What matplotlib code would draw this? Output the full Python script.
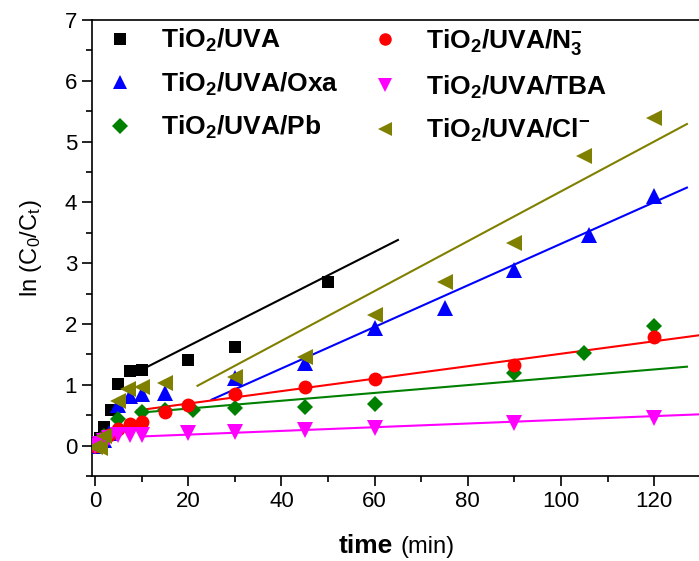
import numpy as np
import matplotlib
matplotlib.use('Agg')
import matplotlib.pyplot as plt
from matplotlib.ticker import MultipleLocator

plt.rcParams['font.family'] = ['Liberation Sans', 'DejaVu Sans']
plt.rcParams['mathtext.fontset'] = 'custom'
plt.rcParams['mathtext.rm'] = 'Liberation Sans'
plt.rcParams['mathtext.bf'] = 'Liberation Sans:bold'
plt.rcParams['mathtext.it'] = 'Liberation Sans:italic'

# measured points, ln(C0/Ct) vs time (min)
t_uva = [0, 1, 2, 3.5, 5, 7.5, 10, 20, 30, 50]
y_uva = [0, 0.13, 0.30, 0.58, 1.02, 1.23, 1.25, 1.40, 1.62, 2.69]

t_n3 = [0, 1, 2, 3, 5, 7.5, 10, 15, 20, 30, 45, 60, 90, 120]
y_n3 = [0, 0.06, 0.12, 0.18, 0.28, 0.36, 0.39, 0.56, 0.67, 0.85, 0.96, 1.10, 1.33, 1.78]

t_oxa = [0, 1, 2, 3, 5, 7.5, 10, 15, 30, 45, 60, 75, 90, 106, 120]
y_oxa = [0, 0.05, 0.10, 0.20, 0.67, 0.81, 0.85, 0.86, 1.12, 1.36, 1.94, 2.27, 2.88, 3.47, 4.11]

t_tba = [0, 1, 2, 3, 5, 7.5, 10, 20, 30, 45, 60, 90, 120]
y_tba = [0, 0.03, 0.07, 0.12, 0.18, 0.17, 0.18, 0.20, 0.23, 0.26, 0.29, 0.37, 0.45]

t_pb = [0, 1, 2, 5, 10, 15, 21, 30, 45, 60, 90, 105, 120]
y_pb = [0, 0.08, 0.15, 0.44, 0.56, 0.58, 0.58, 0.62, 0.64, 0.69, 1.20, 1.52, 1.97]

t_cl = [0, 1, 2, 5, 7, 10, 15, 30, 45, 60, 75, 90, 105, 120]
y_cl = [-0.03, -0.04, 0.15, 0.73, 0.93, 0.96, 1.03, 1.13, 1.46, 2.15, 2.69, 3.33, 4.77, 5.39]

# linear fits: (intercept, slope, t_start, t_end)
fit_uva = (0.86, 0.0388, 10, 65)
fit_n3 = (0.486, 0.01025, 9, 132)
fit_oxa = (-0.10, 0.0342, 25, 127)
fit_tba = (0.12, 0.00304, 10, 132)
fit_pb = (0.48, 0.00644, 9, 127)
fit_cl = (0.082, 0.041, 22, 127)

fig = plt.figure(figsize=(6.99, 5.61), dpi=100)
ax = fig.add_axes([91.7 / 699, 1 - 476 / 561, 612 / 699, 456 / 561])

series = [
    (t_uva, y_uva, fit_uva, 'black', 's', 9, r'TiO$_\mathbf{2}$/UVA'),
    (t_oxa, y_oxa, fit_oxa, 'blue', '^', 11, r'TiO$_\mathbf{2}$/UVA/Oxa'),
    (t_pb, y_pb, fit_pb, 'green', 'D', 8.5, r'TiO$_\mathbf{2}$/UVA/Pb'),
    (t_n3, y_n3, fit_n3, 'red', 'o', 10, r'TiO$_\mathbf{2}$/UVA/N$_\mathbf{3}^\mathbf{-}$'),
    (t_tba, y_tba, fit_tba, 'magenta', 'v', 11, r'TiO$_\mathbf{2}$/UVA/TBA'),
    (t_cl, y_cl, fit_cl, 'olive', '<', 11, r'TiO$_\mathbf{2}$/UVA/Cl$^\mathbf{-}$'),
]

handles = []
for t, y, fit, col, mk, ms, lab in series:
    b, m, t0, t1 = fit
    tt = np.array([t0, t1])
    ax.plot(tt, b + m * tt, color=col, lw=1.5, zorder=2)
for t, y, fit, col, mk, ms, lab in series:
    h, = ax.plot(t, y, linestyle='none', marker=mk, color=col, ms=ms,
                 markeredgewidth=0, label=lab, zorder=3)
    handles.append(h)

ax.set_xlim(-0.7, 130.6)
ax.set_ylim(-0.5, 7)
ax.xaxis.set_major_locator(MultipleLocator(20))
ax.xaxis.set_minor_locator(MultipleLocator(10))
ax.yaxis.set_major_locator(MultipleLocator(1))
ax.yaxis.set_minor_locator(MultipleLocator(0.5))
ax.tick_params(which='both', direction='out', width=1.2, labelsize=16,
               top=False, right=False)
ax.tick_params(which='major', length=7)
ax.tick_params(which='minor', length=4)
for s in ax.spines.values():
    s.set_linewidth(1.2)

ax.set_ylabel(r'ln (C$_0$/C$_\mathrm{t}$)', fontsize=17, labelpad=15)
fig.text(393 / 699, 1 - 553 / 561, 'time', fontsize=19, fontweight='bold',
         ha='right', va='baseline')
fig.text(401 / 699, 1 - 553 / 561, '(min)', fontsize=17,
         ha='left', va='baseline')

leg = ax.legend(handles=handles, ncol=2, loc='upper left', frameon=False,
                prop={'weight': 'bold', 'size': 19}, numpoints=1,
                bbox_to_anchor=(15.1 / 612, 1 - 7 / 456), borderpad=0,
                borderaxespad=0, handlelength=1.0, handletextpad=1.05,
                columnspacing=1.28, labelspacing=0.62, markerscale=0.9)

fig.savefig('out.png', dpi=100)
